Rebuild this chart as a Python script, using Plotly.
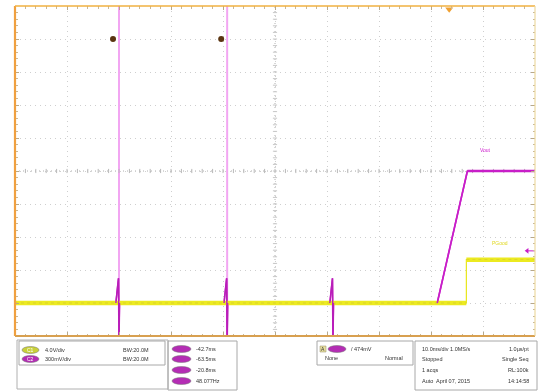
import plotly.graph_objects as go
import numpy as np

# ---------------- data (time in ms relative to trigger, values in volts) ----------------
t_ch2 = [-83.5, -64.1, -63.6, -63.5, -63.4, -43.3, -42.8, -42.7, -42.6,
         -22.95, -22.45, -22.35, -22.25, -2.3, 3.5, 16.5]
v_ch2 = [0.0, 0.0, 0.225, -0.33, 0.0, 0.0, 0.225, -0.33, 0.0,
         0.0, 0.225, -0.33, 0.0, 0.0, 1.2, 1.2]
t_ch1 = [-83.5, 3.3, 3.3, 16.5]
v_ch1 = [0.0, 0.0, 5.25, 5.25]

ch1_scale, ch1_offset = 4.0, -4.0      # V/div, div
ch2_scale, ch2_offset = 0.3, -4.0      # V/div, div
cursor_a, cursor_b = -63.5, -42.7      # ms
trig_level = 0.474                     # V on ch2

ch1_labels = ["4.0V/div", "BW:20.0M"]
ch2_labels = ["300mV/div", "BW:20.0M"]
cursor_readout = ["-42.7ms", "-63.5ms", "-20.8ms", "48.077Hz"]
acq_rows = [("10.0ms/div 1.0MS/s", "1.0µs/pt"), ("Stopped", "Single Seq"),
            ("1 acqs", "RL:100k"), ("Auto  April 07, 2015", "14:14:58")]

XR = [-83.5, 16.5]
YR = [-5, 5]

def d1(v): return [x / ch1_scale + ch1_offset for x in v]
def d2(v): return [x / ch2_scale + ch2_offset for x in v]

fig = go.Figure()

# cursor lines
for c in (cursor_a, cursor_b):
    fig.add_trace(go.Scatter(x=[c, c], y=YR, mode="lines",
                             line=dict(color="#f2a6f2", width=2), hoverinfo="skip"))

# center crosshair minor ticks
cx = -33.5
xt = np.arange(XR[0], XR[1] + 0.01, 2.0)
yt = np.arange(YR[0], YR[1] + 0.01, 0.2)
fig.add_trace(go.Scatter(x=xt, y=[0] * len(xt), mode="markers",
                         marker=dict(symbol="line-ns", size=3, line=dict(color="#b8b8b8", width=1)),
                         hoverinfo="skip"))
fig.add_trace(go.Scatter(x=[cx] * len(yt), y=yt, mode="markers",
                         marker=dict(symbol="line-ew", size=3, line=dict(color="#c8c8c8", width=1)),
                         hoverinfo="skip"))

# channel 2 (magenta)
fig.add_trace(go.Scatter(x=t_ch2, y=d2(v_ch2), mode="lines",
                         line=dict(color="#c81ec8", width=1.6), hoverinfo="skip"))
# channel 1 (yellow): thick noisy band on flats, thin edge
y1 = d1(v_ch1)
fig.add_trace(go.Scatter(x=t_ch1, y=y1, mode="lines",
                         line=dict(color="#e8e61a", width=1.2), hoverinfo="skip"))
fig.add_trace(go.Scatter(x=t_ch1[:2] + [None] + t_ch1[2:], y=y1[:2] + [None] + y1[2:],
                         mode="lines", line=dict(color="#ecea20", width=4.5), hoverinfo="skip"))
fig.add_trace(go.Scatter(x=t_ch1[:2] + [None] + t_ch1[2:], y=y1[:2] + [None] + y1[2:],
                         mode="lines", line=dict(color="#b8a840", width=0.6, dash="dot"),
                         opacity=0.6, hoverinfo="skip"))
# ch2 flat top emphasised
fig.add_trace(go.Scatter(x=t_ch2[-2:], y=d2(v_ch2[-2:]), mode="lines",
                         line=dict(color="#c81ec8", width=2.6), hoverinfo="skip"))
# ch2 ramp + spikes on top of ch1 band
fig.add_trace(go.Scatter(x=t_ch2[-3:-1], y=d2(v_ch2[-3:-1]), mode="lines",
                         line=dict(color="#c81ec8", width=1.6), hoverinfo="skip"))
for i in (1, 5, 9):
    fig.add_trace(go.Scatter(x=t_ch2[i:i + 4], y=d2(v_ch2[i:i + 4]), mode="lines",
                             line=dict(color="#b81eb8", width=1.4), hoverinfo="skip"))

# cursor dots
fig.add_trace(go.Scatter(x=[cursor_a - 1.15, cursor_b - 1.15], y=[4.0, 4.0], mode="markers",
                         marker=dict(color="#5a3410", size=6), hoverinfo="skip"))

# trigger position marker & trigger level marker
fig.add_trace(go.Scatter(x=[0], y=[4.9], mode="markers", cliponaxis=False,
                         marker=dict(symbol="triangle-down", color="#f0a030", size=7), hoverinfo="skip"))
tl = trig_level / ch2_scale + ch2_offset
fig.add_trace(go.Scatter(x=[15.0, 16.5], y=[tl, tl], mode="lines", cliponaxis=False,
                         line=dict(color="#c81ec8", width=1), hoverinfo="skip"))
fig.add_trace(go.Scatter(x=[15.0], y=[tl], mode="markers", cliponaxis=False,
                         marker=dict(symbol="triangle-left", color="#c81ec8", size=5), hoverinfo="skip"))

# ground marker ch1
fig.add_trace(go.Scatter(x=[-83.9], y=[ch1_offset], mode="markers+text", cliponaxis=False,
                         marker=dict(color="#f4f040", size=10, line=dict(color="#c8a820", width=1)),
                         text=["1"], textposition="middle center",
                         textfont=dict(size=6, color="#403000", family="Liberation Sans"),
                         hoverinfo="skip"))

# waveform labels
fig.add_annotation(x=6.9, y=0.64, text="Vout", showarrow=False,
                   font=dict(size=5, color="#d020d0", family="Liberation Sans"))
fig.add_annotation(x=9.8, y=-2.18, text="PGood", showarrow=False,
                   font=dict(size=5, color="#e0d820", family="Liberation Sans"))

# ---------------- frame ----------------
fig.add_shape(type="line", xref="paper", yref="paper", x0=0, x1=0, y0=0, y1=1,
              line=dict(color="#f0a040", width=2.2))
fig.add_shape(type="line", xref="paper", yref="paper", x0=0, x1=1, y0=1, y1=1,
              line=dict(color="#f0b040", width=1.6))
fig.add_shape(type="line", xref="paper", yref="paper", x0=0, x1=1, y0=0, y1=0,
              line=dict(color="#d8a050", width=2.2))
fig.add_shape(type="line", xref="paper", yref="paper", x0=1, x1=1, y0=0, y1=1,
              line=dict(color="#ecd9a0", width=1.2))
# center crosshair
fig.add_shape(type="line", xref="x", yref="y", x0=XR[0], x1=XR[1], y0=0, y1=0,
              line=dict(color="#b0b0b0", width=1, dash="1px,3px"), layer="below")
fig.add_shape(type="line", xref="x", yref="y", x0=cx, x1=cx, y0=YR[0], y1=YR[1],
              line=dict(color="#b0b0b0", width=1, dash="1px,3px"), layer="below")

# ---------------- bottom info panel ----------------
def px(x): return (x - 15) / 520.0
def py(y): return (336 - y) / 330.0

FONT = "Liberation Sans"
TXT = "#333333"

def txt(s, x, y, anchor="left", size=5.5, color=TXT):
    fig.add_annotation(xref="paper", yref="paper", x=px(x), y=py(y), text=s,
                       showarrow=False, xanchor=anchor, yanchor="middle",
                       font=dict(size=size, color=color, family=FONT))

def box(x0, y0, x1, y1, color="#a8a8a8", width=1):
    fig.add_shape(type="rect", xref="paper", yref="paper", x0=px(x0), x1=px(x1),
                  y0=py(y1), y1=py(y0), line=dict(color=color, width=width))

def badge(x0, x1, yc, fill, h=7, label=""):
    fig.add_shape(type="circle", xref="paper", yref="paper", x0=px(x0), x1=px(x1),
                  y0=py(yc + h / 2), y1=py(yc - h / 2), fillcolor=fill,
                  line=dict(color="#707070", width=0.5))
    if label:
        txt(label, (x0 + x1) / 2, yc, anchor="center", size=5, color="#ffffff")

box(17, 340, 168, 389, color="#b0b0b0")
box(19, 341, 165, 365)
badge(22, 39, 350, "#c8d03a", label="C1")
txt(ch1_labels[0], 43, 350)
txt(ch1_labels[1], 121, 350)
badge(22, 39, 359, "#b42db4", label="C2")
txt(ch2_labels[0], 43, 359)
txt(ch2_labels[1], 121, 359)

box(168, 341, 237, 390)
for s, yy in zip(cursor_readout, [349, 359, 370, 381]):
    badge(172, 191, yy, "#b42db4")
    txt(s, 194, yy)

box(317, 341, 413, 365)
fig.add_shape(type="rect", xref="paper", yref="paper", x0=px(320), x1=px(326),
              y0=py(352), y1=py(346), fillcolor="#e8e0a0", line=dict(color="#908860", width=0.5))
txt("A", 323, 349, anchor="center", size=5)
badge(328, 346, 349, "#b42db4")
txt("/ 474mV", 349, 349)
txt("None", 323, 358)
txt("Normal", 383, 358)

box(415, 341, 537, 390)
for (a, b), yy in zip(acq_rows, [349, 359, 370, 381]):
    txt(a, 420, yy)
    txt(b, 531, yy, anchor="right")

fig.update_layout(
    width=539, height=392, margin=dict(l=15, r=4, t=6, b=56),
    paper_bgcolor="white", plot_bgcolor="white", showlegend=False,
    xaxis=dict(range=XR, tick0=XR[0], dtick=10, showgrid=True, gridcolor="#cfcfcf",
               griddash="1px,4px", gridwidth=1, zeroline=False, showticklabels=False,
               ticks="inside", ticklen=4, tickcolor="#b8a888", showline=False, mirror="allticks",
               minor=dict(tick0=XR[0], dtick=2, ticks="inside", ticklen=2.5, tickcolor="#c8b898",
                          showgrid=False),
               fixedrange=True),
    yaxis=dict(range=YR, tick0=YR[0], dtick=1, showgrid=True, gridcolor="#cfcfcf",
               griddash="1px,4px", gridwidth=1, zeroline=False, showticklabels=False,
               ticks="inside", ticklen=4, tickcolor="#b8a888", showline=False, mirror="allticks",
               minor=dict(tick0=YR[0], dtick=0.2, ticks="inside", ticklen=2.5, tickcolor="#c8b898",
                          showgrid=False),
               fixedrange=True),
)

fig.write_html("out.html", config={"displayModeBar": False},
               post_script="document.body.style.margin='0';document.body.style.overflow='hidden';")
